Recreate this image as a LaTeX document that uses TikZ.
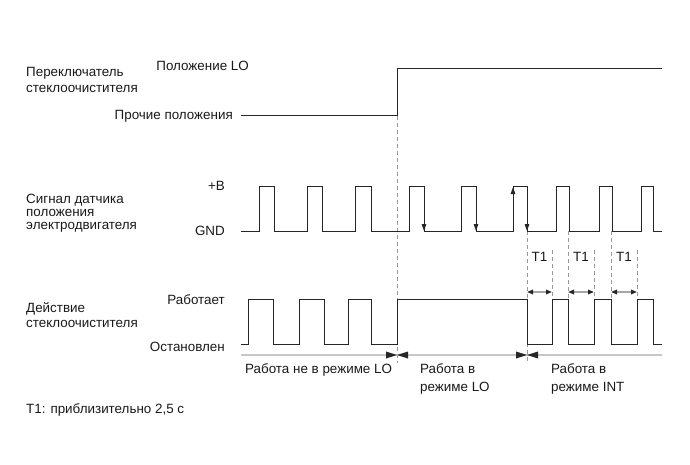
\documentclass[tikz,border=0pt]{standalone}
\usepackage{fontspec}
\setmainfont{Liberation Sans}
\usetikzlibrary{arrows.meta}
\begin{document}
\begin{tikzpicture}[x=1pt,y=-1pt,
  lbl/.style={inner sep=0pt,font=\fontsize{13.4}{15}\selectfont,text=black!90},
  sig/.style={draw=black!85,line width=1pt,line join=miter},
  guide/.style={draw=black!40,line width=0.8pt,dash pattern=on 4pt off 3pt},
  tline/.style={draw=black!22,line width=2pt},
  tip/.style={-{Triangle[length=7pt,width=4.5pt]},draw=black!85,line width=1pt},
  tarr/.style={draw=black!35,line width=1.5pt,{Triangle[length=6pt,width=4.5pt,black!85]}-{Triangle[length=6pt,width=4.5pt,black!85]}}
]
\useasboundingbox (0,0) rectangle (690,465);

% ---- labels, left column
\node[lbl,anchor=base west] (sw1) at (26,77) {Переключатель};
\node[lbl,anchor=base west] (sw2) at (26,93) {стеклоочистителя};
\node[lbl,anchor=base east] (lo)  at (249,71) {Положение LO};
\node[lbl,anchor=base east] (oth) at (233,120) {Прочие положения};

\node[lbl,anchor=base west] (ms1) at (26,203) {Сигнал датчика};
\node[lbl,anchor=base west] (ms2) at (26,216) {положения};
\node[lbl,anchor=base west] (ms3) at (26,229) {электродвигателя};
\node[lbl,anchor=base east] (pb)  at (225,190) {+B};
\node[lbl,anchor=base east] (gnd) at (225,235) {GND};

\node[lbl,anchor=base west] (wa1) at (26,312) {Действие};
\node[lbl,anchor=base west] (wa2) at (26,327) {стеклоочистителя};
\node[lbl,anchor=base east] (run) at (225,304) {Работает};
\node[lbl,anchor=base east] (stp) at (225,351) {Остановлен};

\node[lbl,anchor=base west] (m1)  at (245,373) {Работа не в режиме LO};
\node[lbl,anchor=base west] (m2a) at (420,373) {Работа в};
\node[lbl,anchor=base west] (m2b) at (420,391) {режиме LO};
\node[lbl,anchor=base west] (m3a) at (551,373) {Работа в};
\node[lbl,anchor=base west] (m3b) at (551,391) {режиме INT};

\node[lbl,anchor=base west] (foot) at (26,413) {T1: приблизительно 2,5 с};

\node[lbl,anchor=base] (t1a) at (539.5,261) {T1};
\node[lbl,anchor=base] (t1b) at (581,261) {T1};
\node[lbl,anchor=base] (t1c) at (624,261) {T1};

% ---- guide lines
\draw[guide] (397,116) -- (397,363);
\draw[guide] (527,231) -- (527,363);
\draw[guide] (568,231) -- (568,299);
\draw[guide] (611,231) -- (611,299);
\draw[guide] (552,250) -- (552,297);
\draw[guide] (594,250) -- (594,297);
\draw[guide] (637,250) -- (637,297);

% ---- time line
\draw[tline] (241,355) -- (662,355);
\fill[black!85] (386,351.5) -- (397,355) -- (386,358.5) -- cycle;
\fill[black!85] (408,351.5) -- (397,355) -- (408,358.5) -- cycle;
\fill[black!85] (516,351.5) -- (527,355) -- (516,358.5) -- cycle;
\fill[black!85] (538,351.5) -- (527,355) -- (538,358.5) -- cycle;

% ---- T1 arrows
\draw[tarr] (527,292) -- (552,292);
\draw[tarr] (568,292) -- (594,292);
\draw[tarr] (611,292) -- (637,292);

% ---- switch signal
\draw[sig] (241,116) -- (397,116) -- (397,69) -- (662,69);

% ---- motor position sensor signal
\draw[sig] (241,231)
  \foreach \a/\b in {259/274,307/322,355/371,409/424,461/476,513/527,556/569,599/612,641/653}
  { -- (\a,231) -- (\a,187) -- (\b,187) -- (\b,231) } -- (662,231);
\draw[tip] (424,212) -- (424,231);
\draw[tip] (476,212) -- (476,231);
\draw[tip] (527,212) -- (527,231);
\draw[tip] (513,206) -- (513,187);

% ---- wiper action
\draw[sig] (241,344)
  \foreach \a/\b in {248/273,299/324,348/371,397/527,552/568,594/611,637/653}
  { -- (\a,344) -- (\a,299) -- (\b,299) -- (\b,344) } -- (662,344);
\end{tikzpicture}
\end{document}
